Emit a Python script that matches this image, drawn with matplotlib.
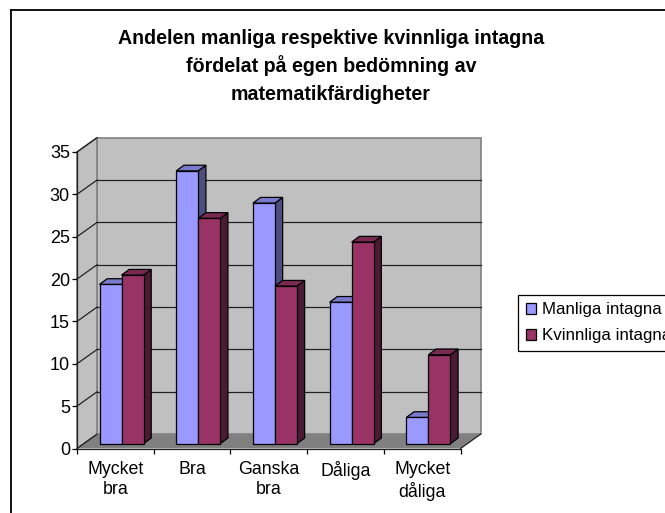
import matplotlib
matplotlib.use("Agg")
import matplotlib.pyplot as plt
from matplotlib.lines import Line2D
from matplotlib.patches import Patch, Polygon

plt.rcParams['font.family'] = ['Liberation Sans', 'DejaVu Sans']

categories = ["Mycket\nbra", "Bra", "Ganska\nbra", "Dåliga", "Mycket\ndåliga"]
manliga = [18.8, 32.2, 28.4, 16.7, 3.1]
kvinnliga = [19.9, 26.6, 18.6, 23.8, 10.5]
series_names = ["Manliga intagna", "Kvinnliga intagna"]
y_ticks = [0, 5, 10, 15, 20, 25, 30, 35]
title_lines = ["Andelen manliga respektive kvinnliga intagna",
               "fördelat på egen bedömning av",
               "matematikfärdigheter"]

W, H = 665, 513
LEFT, RIGHT, BOTTOM, TOP = 77, 460.6, 448.5, 152

# depth of the fake 3d box and of the bars, in data units
px_x = (RIGHT - LEFT) / len(categories)
px_y = (BOTTOM - TOP) / max(y_ticks)
DX, DY = 20 / px_x, 14.3 / px_y
BAR_W = 22 / px_x
BAR_X0 = 22.5 / px_x
BAR_Y0 = 4.8 / px_y
BAR_DX, BAR_DY = 7.7 / px_x, 5.7 / px_y

fig = plt.figure(figsize=(W / 100, H / 100), dpi=100)
ax = fig.add_axes([LEFT / W, 1 - BOTTOM / H, (RIGHT - LEFT) / W, (BOTTOM - TOP) / H])
ax.set_xlim(0, len(categories))
ax.set_ylim(0, max(y_ticks))
ax.patch.set_visible(False)
for side in ["top", "right"]:
    ax.spines[side].set_visible(False)
for side in ["left", "bottom"]:
    ax.spines[side].set_linewidth(0.9)
    ax.spines[side].set_color("#222222")
    ax.spines[side].set_zorder(4)


def poly(points, face, edge="none", lw=0.0, z=1):
    ax.add_patch(Polygon(points, closed=True, facecolor=face, edgecolor=edge,
                         linewidth=lw, zorder=z, clip_on=False, joinstyle="miter"))


n = len(categories)
top = max(y_ticks)
poly([(DX, DY), (n + DX, DY), (n + DX, top + DY), (DX, top + DY)], "#C0C0C0", "#808080", 1.2)
poly([(0, 0), (DX, DY), (DX, top + DY), (0, top)], "#C0C0C0", "#808080", 1.2)
poly([(0, 0), (n, 0), (n + DX, DY), (DX, DY)], "#808080")

for v in y_ticks:
    ax.add_line(Line2D([0, DX], [v, v + DY], color="#111111", lw=0.8, clip_on=False, zorder=2))
    if v not in (0, top):
        ax.add_line(Line2D([DX, n + DX], [v + DY, v + DY], color="#222222", lw=0.9,
                           clip_on=False, zorder=2))
ax.add_line(Line2D([n, n + DX], [0, DY], color="#111111", lw=0.8, clip_on=False, zorder=2))


def bar(x, value, front, side, roof):
    x1 = x + BAR_W
    y0 = BAR_Y0
    y1 = BAR_Y0 + value
    poly([(x1, y0), (x1 + BAR_DX, y0 + BAR_DY), (x1 + BAR_DX, y1 + BAR_DY), (x1, y1)],
         side, "black", 0.9, 3)
    poly([(x, y1), (x1, y1), (x1 + BAR_DX, y1 + BAR_DY), (x + BAR_DX, y1 + BAR_DY)],
         roof, "black", 0.9, 3)
    poly([(x, y0), (x1, y0), (x1, y1), (x, y1)], front, "black", 0.9, 3)


for i in range(n):
    bar(i + BAR_X0, manliga[i], "#9999FF", "#4D4D80", "#7A7ACC")
    bar(i + BAR_X0 + BAR_W, kvinnliga[i], "#993366", "#4D1A33", "#7A2952")

ax.set_yticks(y_ticks)
ax.set_xticks(range(n + 1))
ax.set_xticklabels([])
ax.set_xticks([i + 0.5 for i in range(n)], categories, minor=True, linespacing=1.25)
ax.tick_params(axis="x", which="minor", length=0, pad=9, labelsize=12.8, colors="black")
ax.tick_params(axis="both", which="major", length=3.6, width=0.9, labelsize=13)
ax.tick_params(axis="y", pad=1.5)
for label in ax.get_yticklabels():
    label.set_verticalalignment("center_baseline")

for line, y in zip(title_lines, [39, 66, 94]):
    fig.text(331 / W, 1 - y / H, line, ha="center", va="center", fontsize=14.1, fontweight="bold")

# outer chart frame, runs off the right and bottom of the picture
fig.add_artist(Line2D([11 / W, 11 / W], [0, 1 - 10 / H], color="black", lw=1.3))
fig.add_artist(Line2D([11 / W, 1], [1 - 10 / H, 1 - 10 / H], color="black", lw=1.3))

handles = [Patch(facecolor="#9999FF", edgecolor="black", linewidth=0.9),
           Patch(facecolor="#993366", edgecolor="black", linewidth=0.9)]
leg = fig.legend(handles, series_names, loc="upper left", bbox_to_anchor=(518 / W, 1 - 294.5 / H),
                 borderaxespad=0, fontsize=12.2, fancybox=False, framealpha=1, edgecolor="black",
                 handlelength=0.6, handleheight=0.6, handletextpad=0.35, labelspacing=0.65,
                 borderpad=0.45)
leg.get_frame().set_linewidth(0.9)

fig.savefig("out.png", dpi=100)
